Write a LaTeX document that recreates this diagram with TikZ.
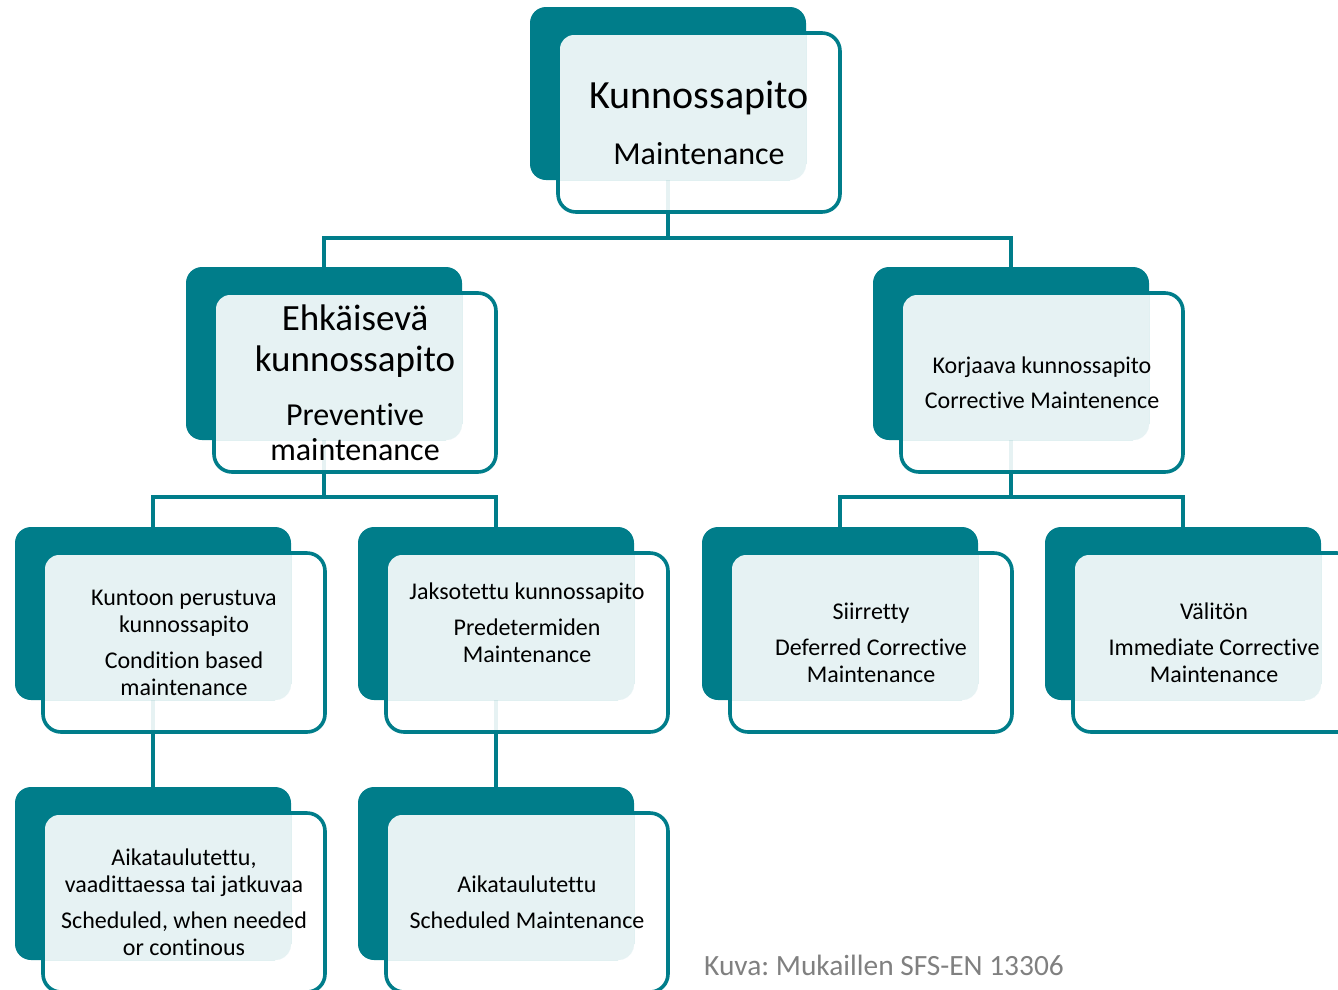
\documentclass[tikz,border=0pt]{standalone}
\usepackage{fontspec}
\setmainfont{Carlito}[Ligatures=NoCommon]
\pgfdeclarelayer{bg}
\pgfsetlayers{bg,main}
\definecolor{tealA}{RGB}{0,125,138}
\definecolor{capgray}{RGB}{128,128,128}
\newcommand\fs[2]{\fontsize{#1}{#2}\selectfont}
\tikzset{
  darkbox/.style={fill=tealA, rounded corners=16pt, minimum width=276pt, minimum height=173pt, inner sep=0pt, outer sep=0pt, anchor=north west},
  framebox/.style={draw=tealA, line width=3.6pt, fill=white, fill opacity=0.9, rounded corners=18pt, minimum width=282pt, minimum height=179pt, inner sep=0pt, outer sep=0pt, anchor=north west},
  lightbox/.style={minimum width=246pt, minimum height=145pt, inner sep=0pt, outer sep=0pt, anchor=north west},
  lightfill/.style={fill=white, fill opacity=0.9},
  conn/.style={draw=tealA, line width=3.6pt},
  lbl/.style={align=center, text=black, inner sep=0pt, font=\fs{24}{27}},
}
% name, x, y of dark box top-left
\newcommand\kbox[3]{%
  \node[framebox] (#1f) at (#2+28,#3+26) {};
  \node[darkbox] (#1) at (#2,#3) {};
  \node[lightbox] (#1t) at (#2+30,#3+28) {};
  \fill[lightfill] (#1t.north east) -- ([yshift=14pt]#1t.south east)
     arc[start angle=0, end angle=-90, radius=14pt] -- (#1t.south west)
     -- ([yshift=-14pt]#1t.north west) arc[start angle=180, end angle=90, radius=14pt] -- cycle;
}
\begin{document}
\frenchspacing
\begin{tikzpicture}[x=1pt,y=-1pt]
\useasboundingbox (0,0) rectangle (1338,989);
\kbox{top}{530}{7}
\kbox{pm}{186}{267}
\kbox{cm}{873}{267}
\kbox{cb}{15}{527}
\kbox{pd}{358}{527}
\kbox{df}{702}{527}
\kbox{im}{1045}{527}
\kbox{sc}{15}{787}
\kbox{sm}{358}{787}

\node[lbl, font=\fs{40}{56}] (topl) at (topf.center) {Kunnossapito\\\fs{32}{56}Maintenance};
\node[lbl, font=\fs{37}{35}] (pml) at (pmf.center) {Ehkäisevä\\[6pt]kunnossapito\\[19pt]\fs{32}{35}Preventive\\\fs{32}{35}maintenance};
\node[lbl] (cml) at (cmf.center) {Korjaava kunnossapito\\[8pt]Corrective Maintenence};
\node[lbl] (cbl) at (cbf.center) {Kuntoon perustuva\\kunnossapito\\[9pt]Condition based\\maintenance};
\node[lbl] (pdl) at ([yshift=20pt]pdf.center) {Jaksotettu kunnossapito\\[9pt]Predetermiden\\Maintenance};
\node[lbl] (dfl) at (dff.center) {Siirretty\\[9pt]Deferred Corrective\\Maintenance};
\node[lbl] (iml) at (imf.center) {Välitön\\[9pt]Immediate Corrective\\Maintenance};
\node[lbl] (scl) at (scf.center) {Aikataulutettu,\\vaadittaessa tai jatkuvaa\\[9pt]Scheduled, when needed\\or continous};
\node[lbl] (sml) at (smf.center) {Aikataulutettu\\[9pt]Scheduled Maintenance};

\node[anchor=base west, inner sep=0pt, text=capgray, font=\fs{29.4}{33}] (cap) at (704,975) {Kuva: Mukaillen SFS-EN 13306};

\begin{pgfonlayer}{bg}
  \coordinate (b0) at (top.center |- 0,238);
  \draw[conn] (top.center) -- (b0);
  \draw[conn] (b0) -| (pm.center);
  \draw[conn] (b0) -| (cm.center);
  \coordinate (b1) at (pm.center |- 0,497);
  \draw[conn] (pm.center) -- (b1);
  \draw[conn] (b1) -| (cb.center);
  \draw[conn] (b1) -| (pd.center);
  \coordinate (b2) at (cm.center |- 0,497);
  \draw[conn] (cm.center) -- (b2);
  \draw[conn] (b2) -| (df.center);
  \draw[conn] (b2) -| (im.center);
  \draw[conn] (cb.center) -- (sc.center);
  \draw[conn] (pd.center) -- (sm.center);
\end{pgfonlayer}
\end{tikzpicture}
\end{document}
